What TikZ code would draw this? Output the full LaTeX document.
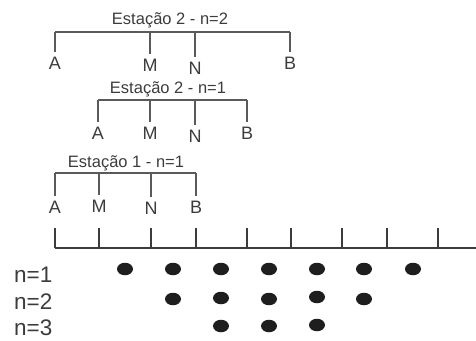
\documentclass[tikz,border=0pt]{standalone}
\usepackage{fontspec}
\setmainfont{Liberation Sans}
\usepackage{xcolor}
\usetikzlibrary{positioning,shapes.geometric}
\definecolor{inkgray}{HTML}{3C3C3C}
\definecolor{linegray}{HTML}{5A5A5A}
\definecolor{dotblack}{HTML}{1E1E1E}

\begin{document}
\begin{tikzpicture}[
    x=1pt, y=-1pt,
    title/.style={text=inkgray, font=\fontsize{16.5}{18}\selectfont, inner sep=0pt, anchor=base},
    elec/.style={text=inkgray, font=\fontsize{18}{20}\selectfont, inner sep=0pt, anchor=base},
    lvl/.style={text=inkgray, font=\fontsize{22.5}{24}\selectfont, inner sep=0pt, anchor=base west},
    bar/.style={draw=linegray, line width=1.2pt},
    pin/.style={draw=linegray, line width=1.2pt, shorten >=4pt},
    scale line/.style={draw=inkgray, line width=2.6pt},
    tickmark/.style={draw=inkgray, line width=1.6pt},
    dot/.style={ellipse, fill=dotblack, minimum width=16pt, minimum height=12.5pt, inner sep=0pt}
]
\useasboundingbox (0,0) rectangle (476,340);

% Estacao 2 - n=2
\node[title] (t22) at (170,24.5) {Estação 2 - n=2};
\node[elec] (a22) at (55,69) {A};
\node[elec] (m22) at (150,71) {M};
\node[elec] (n22) at (195,74) {N};
\node[elec] (b22) at (290,69) {B};
\coordinate (ca22) at (55,32);
\coordinate (cb22) at (290,32);
\draw[bar] (ca22) -- (cb22);
\draw[pin] (ca22) -- (a22.north);
\draw[pin] (ca22 -| m22) -- (m22.north);
\draw[pin] (ca22 -| n22) -- (n22.north);
\draw[pin] (cb22) -- (b22.north);

% Estacao 2 - n=1
\node[title] (t21) at (168,93) {Estação 2 - n=1};
\node[elec] (a21) at (98,139) {A};
\node[elec] (m21) at (150,139) {M};
\node[elec] (n21) at (195,142) {N};
\node[elec] (b21) at (247,139) {B};
\coordinate (ca21) at (98,100);
\coordinate (cb21) at (247,100);
\draw[bar] (ca21) -- (cb21);
\draw[pin] (ca21) -- (a21.north);
\draw[pin] (ca21 -| m21) -- (m21.north);
\draw[pin] (ca21 -| n21) -- (n21.north);
\draw[pin] (cb21) -- (b21.north);

% Estacao 1 - n=1
\node[title] (t11) at (126,167) {Estação 1 - n=1};
\node[elec] (a11) at (55,213) {A};
\node[elec] (m11) at (99,212) {M};
\node[elec] (n11) at (151,214) {N};
\node[elec] (b11) at (196,213) {B};
\coordinate (ca11) at (55,173);
\coordinate (cb11) at (196,173);
\draw[bar] (ca11) -- (cb11);
\draw[pin] (ca11) -- (a11.north);
\draw[pin] (ca11 -| m11) -- (m11.north);
\draw[pin] (ca11 -| n11) -- (n11.north);
\draw[pin] (cb11) -- (b11.north);

% linha de eletrodos
\coordinate (s0) at (55,248);
\coordinate (s9) at (476,248);
\draw[scale line] (s0) -- (s9);
\draw[tickmark] (55,228) -- (55,248);
\draw[tickmark] (99,228) -- (99,248);
\draw[tickmark] (151,228) -- (151,248);
\draw[tickmark] (196,228) -- (196,248);
\draw[tickmark] (247,228) -- (247,248);
\draw[tickmark] (291,228) -- (291,248);
\draw[tickmark] (342,228) -- (342,248);
\draw[tickmark] (387,228) -- (387,248);
\draw[tickmark] (438,228) -- (438,248);

% pontos de medida
\node[lvl] (l1) at (14,282) {n=1};
\node[lvl] (l2) at (14,309) {n=2};
\node[lvl] (l3) at (14,335) {n=3};
\node[dot] (p11) at (125,269) {};
\node[dot] (p12) at (173,269) {};
\node[dot] (p13) at (221,269) {};
\node[dot] (p14) at (269,269) {};
\node[dot] (p15) at (317,269) {};
\node[dot] (p16) at (364,269) {};
\node[dot] (p17) at (413,269) {};
\node[dot] (p21) at (173,299) {};
\node[dot] (p22) at (221,298) {};
\node[dot] (p23) at (269,299) {};
\node[dot] (p24) at (317,297) {};
\node[dot] (p25) at (364,299) {};
\node[dot] (p31) at (221,326) {};
\node[dot] (p32) at (269,326) {};
\node[dot] (p33) at (317,325) {};
\end{tikzpicture}
\end{document}
